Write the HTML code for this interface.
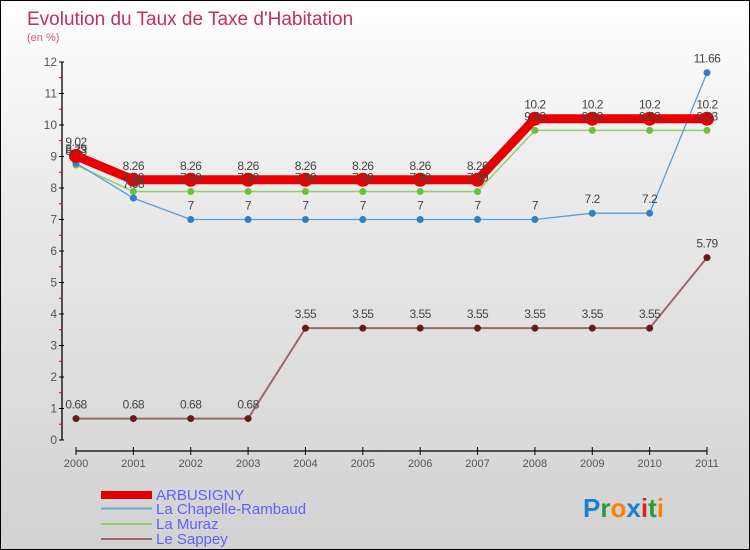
<!DOCTYPE html>
<html><head><meta charset="utf-8"><style>
body{margin:0;}
#wrap{position:relative;width:748px;height:548px;border:1px solid #000;background:linear-gradient(#ffffff,#e8e8e8 40%,#d2d2d2);overflow:hidden;font-family:"Liberation Sans",sans-serif;}
svg{position:absolute;left:0;top:0;}
</style></head><body>
<div id="wrap">
<svg id="chart" width="750" height="550">
<text x="26" y="24" font-size="19" fill="#c03060">Evolution du Taux de Taxe d'Habitation</text>
<text x="26" y="40" font-size="11" fill="#c06080">(en %)</text>
<g id="axes"></g><g id="series"></g><g id="labels"></g>
<g>
<rect x="100" y="490" width="51" height="8" fill="#e00000"/>
<text x="155" y="499" font-size="15" fill="#6060ff">ARBUSIGNY</text>
<line x1="100" y1="507.5" x2="151" y2="507.5" stroke="#6fa8d8" stroke-width="2"/>
<text x="155" y="513" font-size="15" fill="#6060ff">La Chapelle-Rambaud</text>
<line x1="100" y1="523" x2="151" y2="523" stroke="#90d070" stroke-width="2"/>
<text x="155" y="528" font-size="15" fill="#6060ff">La Muraz</text>
<line x1="100" y1="538" x2="151" y2="538" stroke="#9a6a6a" stroke-width="2"/>
<text x="155" y="543" font-size="15" fill="#6060ff">Le Sappey</text>
</g>
<g font-size="26" font-weight="bold">
<text x="582" y="516"><tspan fill="#1e7fd0">P</tspan><tspan fill="#2a9a3a">r</tspan><tspan fill="#ff8000">o</tspan><tspan fill="#1e7fd0">x</tspan><tspan fill="#e02020">i</tspan><tspan fill="#2a9a3a">t</tspan><tspan fill="#ff8000">i</tspan></text>
</g>
</svg>
</div>
<script>
const years=["2000","2001","2002","2003","2004","2005","2006","2007","2008","2009","2010","2011"];
const arbusigny=[9.02,8.26,8.26,8.26,8.26,8.26,8.26,8.26,10.2,10.2,10.2,10.2];
const chapelle=[8.79,7.68,7,7,7,7,7,7,7,7.2,7.2,11.66];
const muraz=[8.73,7.89,7.89,7.89,7.89,7.89,7.89,7.89,9.83,9.83,9.83,9.83];
const sappey=[0.68,0.68,0.68,0.68,3.55,3.55,3.55,3.55,3.55,3.55,3.55,5.79];
const yTicks=[0,1,2,3,4,5,6,7,8,9,10,11,12];
const NS="http://www.w3.org/2000/svg";
function X(i){return 75+i*(706-75)/11;}
function Y(v){return 439-v*(439-61)/12;}
function mk(t,a,p){const e=document.createElementNS(NS,t);for(const k in a)e.setAttribute(k,a[k]);p.appendChild(e);return e;}
const ax=document.getElementById('axes'),sg=document.getElementById('series'),lg=document.getElementById('labels');
let l=mk('line',{x1:61,y1:Y(12),x2:61,y2:Y(0),stroke:'#000','stroke-width':1.3},ax);


yTicks.forEach(v=>{
 mk('line',{x1:58,y1:Y(v),x2:63,y2:Y(v),stroke:'#000'},ax);
 if(v<12) mk('line',{x1:58,y1:Y(v+0.5),x2:61,y2:Y(v+0.5),stroke:'#e00000'},ax);
 const t=mk('text',{x:56,y:Y(v)+4,'font-size':12,fill:'#555','text-anchor':'end'},ax);t.textContent=v;
 
 
});
l=mk('line',{x1:X(0),y1:450,x2:X(11),y2:450,stroke:'#000','stroke-width':1.3},ax);


years.forEach((y,i)=>{
 mk('line',{x1:X(i),y1:446,x2:X(i),y2:454,stroke:'#000'},ax);
 const t=mk('text',{x:X(i),y:466,'font-size':11,fill:'#555','text-anchor':'middle'},ax);t.textContent=y;
 
 
});
function series(d,name,col,w,r,dot,lab){
 const g=mk('g',{},sg);
 
 
 mk('polyline',{points:d.map((v,i)=>X(i)+','+Y(v)).join(' '),fill:'none',stroke:col,'stroke-width':w,'stroke-linejoin':'round'},g);
 d.forEach((v,i)=>{
  const c=mk('circle',{cx:X(i),cy:Y(v),r:r,fill:dot},g);
  
  
  const t=mk('text',{x:X(i),y:Y(v)-10,'font-size':12,fill:'#444','text-anchor':'middle','letter-spacing':'-0.5'},lg);
  t.textContent=v;
  
  
 });
}
series(sappey,'sappey','#9a6a6a',2,3.5,'#6a1a1a');
series(muraz,'muraz','#90d070',1.5,3.5,'#6cc040');
series(chapelle,'chapelle','#5a9fd8',1.3,3.5,'#2f80c8');
series(arbusigny,'arbusigny','#e80000',9,7,'#e80000');
</script>
</body></html>
